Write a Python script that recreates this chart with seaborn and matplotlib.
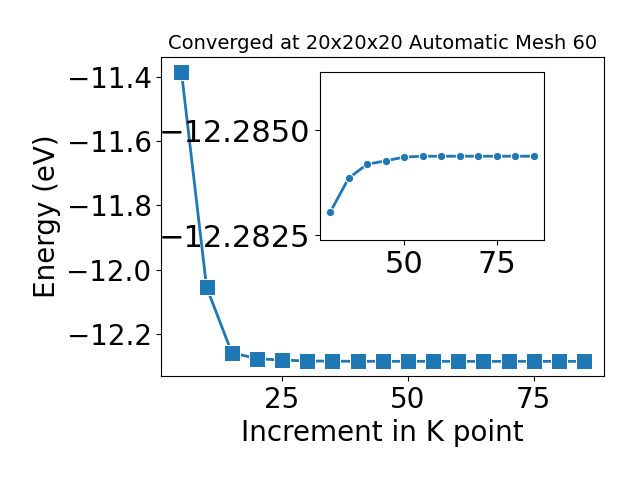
import matplotlib
matplotlib.use("Agg")
import matplotlib.pyplot as plt
import seaborn as sns
import pandas as pd

# k-point convergence data
kpoints = [5, 10, 15, 20, 25, 30, 35, 40, 45, 50, 55, 60, 65, 70, 75, 80, 85]
energy = [-11.384, -12.054, -12.257, -12.276, -12.2805, -12.28305, -12.28386,
          -12.28419, -12.28427, -12.28436, -12.28438, -12.28438, -12.28438,
          -12.28438, -12.28438, -12.28438, -12.28438]

d = pd.DataFrame({"k": kpoints, "E": energy})
zoom = d[d["k"] >= 30]

fig = plt.figure(figsize=(6.4, 4.8), dpi=100)
ax = fig.add_axes([0.252, 0.217, 0.692, 0.664])
sns.lineplot(data=d, x="k", y="E", marker="s", markersize=11, linewidth=2, ax=ax)
ax.set_xticks([25, 50, 75])
ax.set_xlabel("Increment in K point", fontsize=20)
ax.set_ylabel("Energy (eV)", fontsize=20)
ax.set_title("Converged at 20x20x20 Automatic Mesh 60", fontsize=14)
ax.tick_params(labelsize=20)

ax_in = fig.add_axes([0.5, 0.5, 0.35, 0.35])
sns.lineplot(data=zoom, x="k", y="E", marker="o", markersize=6, linewidth=2, ax=ax_in)
ax_in.set_ylim(-12.28239, -12.28638)
ax_in.set_yticks([-12.2850, -12.2825])
ax_in.ticklabel_format(axis="y", useOffset=False)
ax_in.set_xlabel("")
ax_in.set_ylabel("")
ax_in.tick_params(labelsize=22)

plt.savefig("out.png")
